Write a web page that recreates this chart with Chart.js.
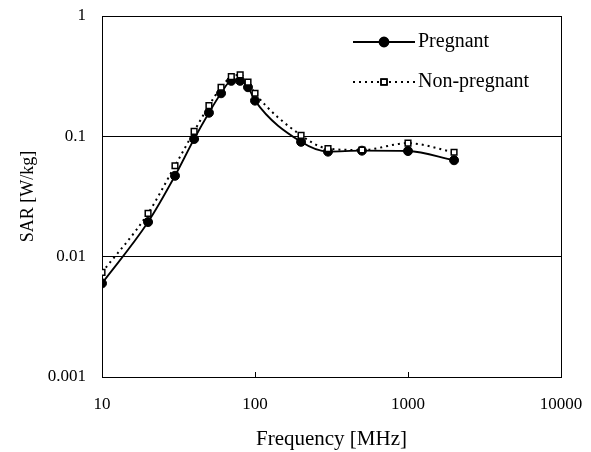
<!DOCTYPE html>
<html>
<head>
<meta charset="utf-8">
<script src="https://cdn.jsdelivr.net/npm/chart.js@4.4.1/dist/chart.umd.min.js"></script>
<style>
  html, body { margin: 0; padding: 0; background: #fff; }
  #wrap { width: 591px; height: 452px; }
</style>
</head>
<body>
<div id="wrap"><canvas id="chart" width="591" height="452"></canvas></div>
<script>
// frequencies in MHz, SAR in W/kg
const frequencies = [10, 20, 30, 40, 50, 60, 70, 80, 90, 100, 200, 300, 500, 1000, 2000];
const pregnant    = [0.0060, 0.0194, 0.047, 0.095, 0.157, 0.228, 0.289, 0.289, 0.256, 0.198, 0.090, 0.0746, 0.0760, 0.0755, 0.0633];
const nonPregnant = [0.0074, 0.0229, 0.057, 0.110, 0.180, 0.256, 0.313, 0.324, 0.282, 0.228, 0.102, 0.079, 0.077, 0.0877, 0.0738];
const seriesNames = ["Pregnant", "Non-pregnant"];
const xTicks = [10, 100, 1000, 10000];
const yTicks = [0.001, 0.01, 0.1, 1];

const serif = "'Liberation Serif', 'Times New Roman', serif";

// keep the plot box where the reference has it
function noScalePadding(s) {
  s.paddingLeft = 0;
  s.paddingRight = 0;
  s.paddingTop = 0;
  s.paddingBottom = 0;
}

// box round the plot, inward ticks on the x axis, legend in the top right
const framePlugin = {
  id: "frame",
  beforeDatasetsDraw(chart) {
    const { ctx, chartArea: a, scales } = chart;
    ctx.save();
    ctx.strokeStyle = "#000";
    ctx.lineWidth = 1;
    ctx.strokeRect(Math.round(a.left) + 0.5, Math.round(a.top) + 0.5,
                   Math.round(a.right - a.left), Math.round(a.bottom - a.top));
    ctx.beginPath();
    xTicks.forEach(v => {
      const x = Math.round(scales.x.getPixelForValue(v)) + 0.5;
      ctx.moveTo(x, a.bottom);
      ctx.lineTo(x, a.bottom - 5);
    });
    ctx.stroke();
    ctx.restore();
  },
  afterDatasetsDraw(chart) {
    const { ctx } = chart;
    const rows = [42, 82];
    ctx.save();
    chart.data.datasets.forEach((ds, i) => {
      const y = rows[i];
      ctx.strokeStyle = "#000";
      ctx.lineWidth = ds.borderWidth;
      ctx.setLineDash(ds.borderDash || []);
      ctx.beginPath();
      ctx.moveTo(353, y);
      ctx.lineTo(415, y);
      ctx.stroke();
      ctx.setLineDash([]);
      Chart.helpers.drawPoint(ctx, {
        pointStyle: ds.pointStyle,
        radius: ds.pointRadius,
        borderWidth: ds.pointBorderWidth,
        rotation: 0
      }, 384, y);
      ctx.fillStyle = ds.pointBackgroundColor;
      ctx.strokeStyle = "#000";
      ctx.lineWidth = ds.pointBorderWidth;
      ctx.fill();
      ctx.stroke();
      ctx.fillStyle = "#000";
      ctx.font = "20px " + serif;
      ctx.textBaseline = "middle";
      ctx.textAlign = "left";
      ctx.fillText(ds.label, 418, y);
    });
    ctx.restore();
  }
};

new Chart(document.getElementById("chart"), {
  type: "line",
  data: {
    datasets: [
      {
        label: seriesNames[0],
        data: frequencies.map((f, i) => ({ x: f, y: pregnant[i] })),
        borderColor: "#000",
        borderWidth: 1.8,
        pointStyle: "circle",
        pointRadius: 4.5,
        pointBackgroundColor: "#000",
        pointBorderColor: "#000",
        pointBorderWidth: 1,
        cubicInterpolationMode: "monotone",
        order: 1
      },
      {
        label: seriesNames[1],
        data: frequencies.map((f, i) => ({ x: f, y: nonPregnant[i] })),
        borderColor: "#000",
        borderWidth: 2,
        borderDash: [2, 4],
        pointStyle: "rect",
        pointRadius: 4,
        pointBackgroundColor: "#fff",
        pointBorderColor: "#000",
        pointBorderWidth: 1.5,
        cubicInterpolationMode: "monotone",
        order: 0
      }
    ]
  },
  options: {
    responsive: false,
    animation: false,
    devicePixelRatio: 1,
    layout: { padding: { top: 16, right: 30, left: 0, bottom: 0 } },
    plugins: {
      legend: { display: false },
      tooltip: { enabled: false }
    },
    scales: {
      x: {
        type: "logarithmic",
        min: 10,
        max: 10000,
        grid: { display: false },
        border: { display: false },
        afterBuildTicks: s => { s.ticks = xTicks.map(v => ({ value: v })); },
        afterFit: s => { s.height = 75; noScalePadding(s); },
        ticks: {
          color: "#000",
          font: { family: serif, size: 17 },
          padding: 9,
          maxRotation: 0,
          autoSkip: false,
          callback: v => String(v)
        },
        title: {
          display: true,
          text: "Frequency [MHz]",
          color: "#000",
          font: { family: serif, size: 21 },
          padding: { top: 0, bottom: 0 }
        }
      },
      y: {
        type: "logarithmic",
        min: 0.001,
        max: 1,
        grid: { color: "#000", lineWidth: 1, drawTicks: false },
        border: { display: false },
        afterBuildTicks: s => { s.ticks = yTicks.map(v => ({ value: v })); },
        afterFit: s => { s.width = 102; noScalePadding(s); },
        ticks: {
          color: "#000",
          font: { family: serif, size: 17 },
          padding: 16,
          autoSkip: false,
          callback: v => String(v)
        },
        title: {
          display: true,
          text: "SAR [W/kg]",
          color: "#000",
          font: { family: serif, size: 18 },
          padding: { top: 17, bottom: 0 }
        }
      }
    }
  },
  plugins: [framePlugin]
});
</script>
</body>
</html>
